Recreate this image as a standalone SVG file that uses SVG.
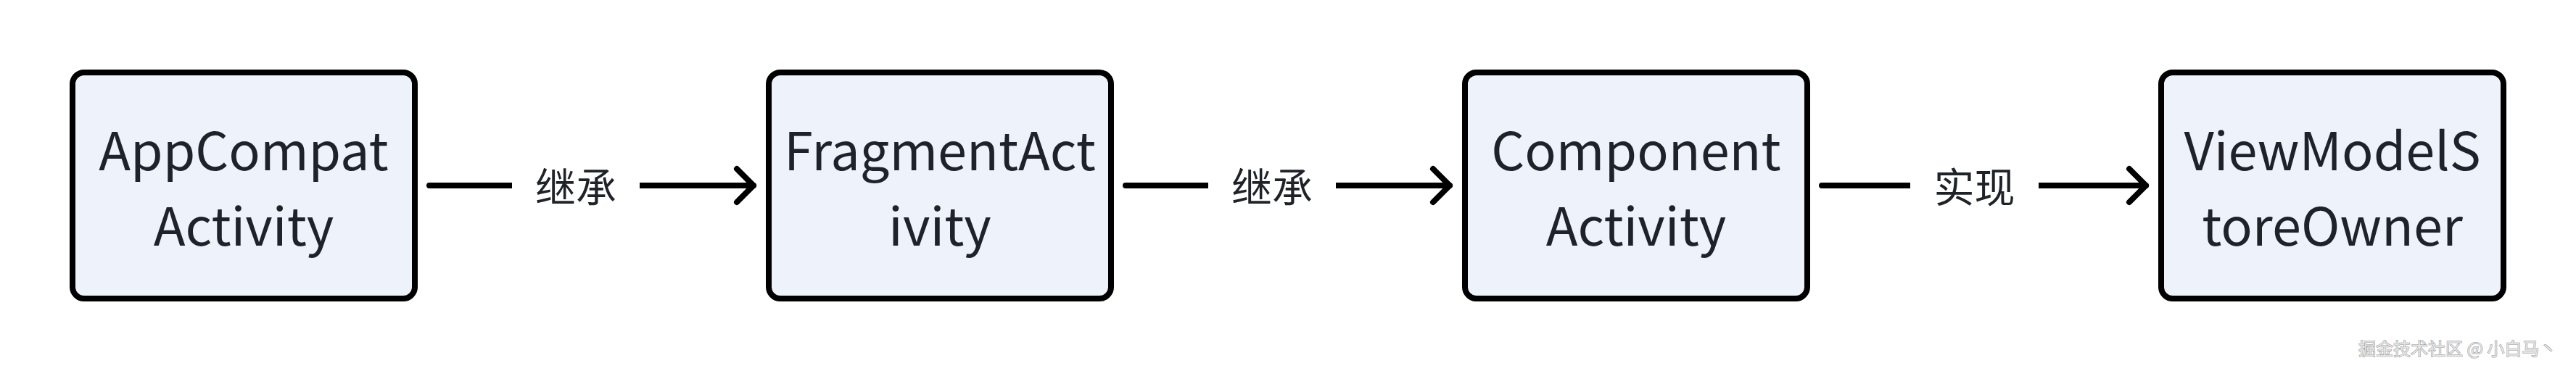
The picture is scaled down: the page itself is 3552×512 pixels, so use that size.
<svg xmlns="http://www.w3.org/2000/svg" width="3552" height="512" viewBox="0 0 3552 512">
  <style>
    .box { fill: #EEF2FB; stroke: #000000; stroke-width: 8; }
    .ntext { font-family: "Noto Sans CJK SC", "Noto Sans", sans-serif; font-size: 72px; fill: #1F2329; text-anchor: middle; }
    .edge { fill: none; stroke: #000000; stroke-width: 8; stroke-linecap: round; }
    .lbg { fill: #FFFFFF; }
    .ltext { font-family: "Noto Sans CJK SC", sans-serif; font-size: 56px; fill: #1F2329; text-anchor: middle; }
    .wm { font-family: "Noto Sans CJK SC", sans-serif; font-size: 24px; fill: #E4E4E4; stroke: #8E8E8E; stroke-width: 1; paint-order: stroke; }
  </style>
  <defs>
    <marker id="arrow" markerUnits="userSpaceOnUse" viewBox="-40 -40 50 80" markerWidth="50" markerHeight="80" refX="0" refY="0" orient="auto" overflow="visible">
      <path d="M-23,-23 L0,0 L-23,23" fill="none" stroke="#000000" stroke-width="8" stroke-linecap="round" stroke-linejoin="round"/>
    </marker>
  </defs>
  <rect x="0" y="0" width="3552" height="512" fill="#FFFFFF"/>

  <g id="connectors">
    <g id="edge1">
      <path class="edge" d="M592,256 H1039" marker-end="url(#arrow)"/>
      <rect class="lbg" x="706" y="226" width="176" height="60"/>
      <text class="ltext" x="794" y="279">继承</text>
    </g>
    <g id="edge2">
      <path class="edge" d="M1552,256 H1999" marker-end="url(#arrow)"/>
      <rect class="lbg" x="1666" y="226" width="176" height="60"/>
      <text class="ltext" x="1754" y="279">继承</text>
    </g>
    <g id="edge3">
      <path class="edge" d="M2512,256 H2959" marker-end="url(#arrow)"/>
      <rect class="lbg" x="2634" y="226" width="177" height="60"/>
      <text class="ltext" x="2722.5" y="279">实现</text>
    </g>
  </g>

  <g id="node-appcompat">
    <rect class="box" x="100" y="100" width="472" height="312" rx="16" ry="16"/>
    <text class="ntext" x="336" y="235">AppCompat</text>
    <text class="ntext" x="336" y="339">Activity</text>
  </g>
  <g id="node-fragment">
    <rect class="box" x="1060" y="100" width="472" height="312" rx="16" ry="16"/>
    <text class="ntext" x="1296" y="235">FragmentAct</text>
    <text class="ntext" x="1296" y="339">ivity</text>
  </g>
  <g id="node-component">
    <rect class="box" x="2020" y="100" width="472" height="312" rx="16" ry="16"/>
    <text class="ntext" x="2256" y="235">Component</text>
    <text class="ntext" x="2256" y="339">Activity</text>
  </g>
  <g id="node-viewmodelstoreowner">
    <rect class="box" x="2980" y="100" width="472" height="312" rx="16" ry="16"/>
    <text class="ntext" x="3216" y="235">ViewModelS</text>
    <text class="ntext" x="3216" y="339">toreOwner</text>
  </g>

  <text class="wm" x="3252" y="490">掘金技术社区 @ 小白马丶</text>
</svg>
